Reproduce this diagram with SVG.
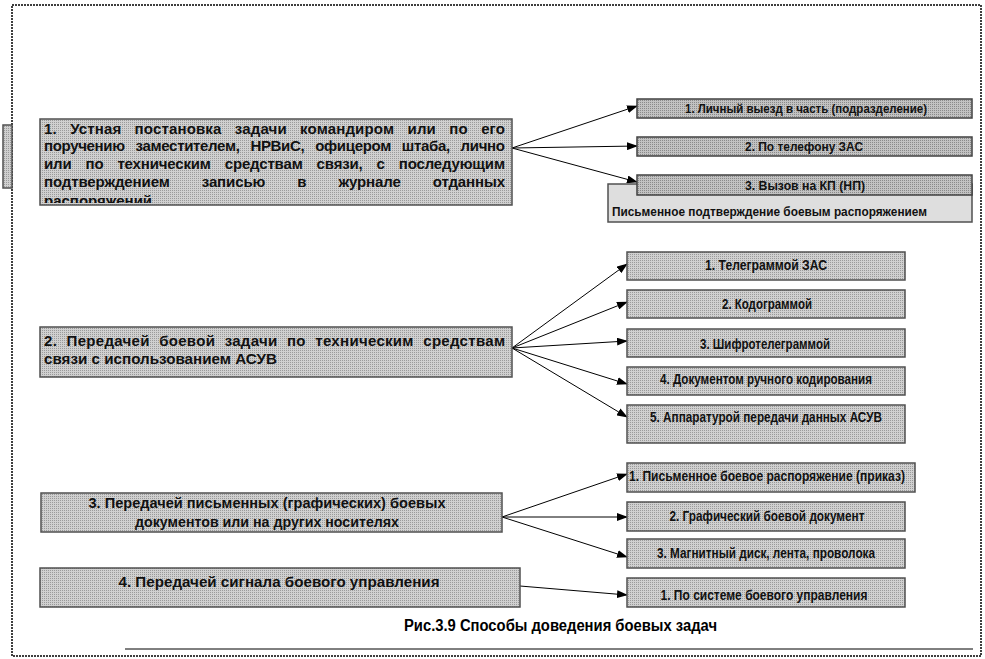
<svg xmlns="http://www.w3.org/2000/svg" width="985" height="659" viewBox="0 0 985 659">
<style>
.box{fill:url(#dots);stroke:#505050;stroke-width:1.5}
.boxd{fill:url(#dotsd);stroke:#404040;stroke-width:1.5}
.main{font-family:"Liberation Sans",Arial,sans-serif;font-size:15px;font-weight:bold;fill:#111}
.sub{font-family:"Liberation Sans Narrow","Liberation Sans",Arial,sans-serif;font-size:15px;font-weight:bold;fill:#111;text-anchor:middle}
.sm{font-size:13px}
.cap{font-family:"Liberation Sans Narrow","Liberation Sans",Arial,sans-serif;font-size:16px;font-weight:bold;fill:#000}
.conn line{stroke:#000;stroke-width:1;marker-end:url(#ah)}
</style>
<defs>
<pattern id="dots" width="2" height="2" patternUnits="userSpaceOnUse"><rect width="2" height="2" fill="#d0d0d0"/><rect width="1" height="1" fill="#9a9a9a"/></pattern>
<pattern id="dotsd" width="2" height="2" patternUnits="userSpaceOnUse"><rect width="2" height="2" fill="#c2c2c2"/><rect width="1" height="1" fill="#8a8a8a"/></pattern>
<marker id="ah" markerUnits="userSpaceOnUse" markerWidth="11" markerHeight="8" refX="10" refY="4" orient="auto"><path d="M0,0 L11,4 L0,8 z" fill="#000"/></marker>
<clipPath id="c1"><rect x="40" y="119" width="472" height="84"/></clipPath>
</defs>

<rect x="12" y="5" width="969" height="651" fill="none" stroke="#000" stroke-width="1.5" stroke-dasharray="2 1"/>
<line x1="125" y1="649" x2="973" y2="649" stroke="#000" stroke-width="1"/>
<rect x="3" y="125" width="9" height="63" class="box"/>

<g class="conn">
<line x1="512" y1="148" x2="637" y2="106"/>
<line x1="512" y1="148" x2="637" y2="146"/>
<line x1="512" y1="148" x2="637" y2="182"/>
<line x1="512" y1="348" x2="627" y2="264"/>
<line x1="512" y1="348" x2="627" y2="302"/>
<line x1="512" y1="348" x2="627" y2="341"/>
<line x1="512" y1="348" x2="627" y2="384"/>
<line x1="512" y1="348" x2="627" y2="417"/>
<line x1="502" y1="517" x2="627" y2="474"/>
<line x1="502" y1="517" x2="627" y2="517"/>
<line x1="502" y1="517" x2="627" y2="557"/>
<line x1="520" y1="586" x2="627" y2="595"/>
</g>

<g id="n1">
<rect x="40" y="119" width="472" height="86" class="box"/>
<g clip-path="url(#c1)" class="main">
<text x="44" y="134" word-spacing="9" textLength="461" lengthAdjust="spacing">1. Устная постановка задачи командиром или по его</text>
<text x="44" y="151" word-spacing="7" textLength="461" lengthAdjust="spacing">поручению заместителем, НРВиС, офицером штаба, лично</text>
<text x="44" y="169" word-spacing="10" textLength="461" lengthAdjust="spacing">или по техническим средствам связи, с последующим</text>
<text x="44" y="187" word-spacing="28" textLength="461" lengthAdjust="spacing">подтверждением записью в журнале отданных</text>
<text x="44" y="206">распоряжений</text>
</g>
</g>

<g id="n1a"><rect x="637" y="99" width="335" height="19" class="boxd"/><text x="806" y="113" class="sub sm" textLength="242" lengthAdjust="spacingAndGlyphs">1. Личный выезд в часть (подразделение)</text></g>
<g id="n1b"><rect x="637" y="137" width="335" height="19" class="boxd"/><text x="804" y="151" class="sub sm" textLength="118" lengthAdjust="spacingAndGlyphs">2. По телефону ЗАС</text></g>
<g id="n1d"><rect x="608" y="184" width="364" height="38" fill="#dedede" stroke="#505050" stroke-width="1.5"/><text x="612" y="216" class="sub sm" style="text-anchor:start" textLength="315" lengthAdjust="spacingAndGlyphs">Письменное подтверждение боевым распоряжением</text></g>
<g id="n1c"><rect x="637" y="175" width="335" height="20" class="boxd"/><text x="805" y="190" class="sub sm" textLength="120" lengthAdjust="spacingAndGlyphs">3. Вызов на КП (НП)</text></g>

<g id="n2">
<rect x="40" y="327" width="472" height="50" class="box"/>
<text x="44" y="346" class="main" word-spacing="5" textLength="461" lengthAdjust="spacing">2. Передачей боевой задачи по техническим средствам</text>
<text x="44" y="364" class="main" textLength="233" lengthAdjust="spacingAndGlyphs">связи с использованием АСУВ</text>
</g>
<g id="n2a"><rect x="627" y="252" width="278" height="28" class="box"/><text x="766" y="270" class="sub" textLength="122" lengthAdjust="spacingAndGlyphs">1. Телеграммой ЗАС</text></g>
<g id="n2b"><rect x="627" y="290" width="278" height="28" class="box"/><text x="767" y="309" class="sub" textLength="90" lengthAdjust="spacingAndGlyphs">2. Кодограммой</text></g>
<g id="n2c"><rect x="627" y="329" width="278" height="28" class="box"/><text x="765" y="349" class="sub" textLength="130" lengthAdjust="spacingAndGlyphs">3. Шифротелеграммой</text></g>
<g id="n2d"><rect x="627" y="367" width="278" height="28" class="box"/><text x="766" y="384" class="sub" textLength="212" lengthAdjust="spacingAndGlyphs">4. Документом ручного кодирования</text></g>
<g id="n2e"><rect x="627" y="405" width="278" height="38" class="box"/><text x="766" y="422" class="sub" textLength="232" lengthAdjust="spacingAndGlyphs">5. Аппаратурой передачи данных АСУВ</text></g>

<g id="n3">
<rect x="41" y="493" width="461" height="39" class="box"/>
<text x="267" y="508" class="main" text-anchor="middle" textLength="357" lengthAdjust="spacingAndGlyphs">3. Передачей письменных (графических) боевых</text>
<text x="267" y="527" class="main" text-anchor="middle" textLength="264" lengthAdjust="spacingAndGlyphs">документов или на других носителях</text>
</g>
<g id="n3a"><rect x="627" y="463" width="288" height="29" class="box"/><text x="767" y="481" class="sub" textLength="276" lengthAdjust="spacingAndGlyphs">1. Письменное боевое распоряжение (приказ)</text></g>
<g id="n3b"><rect x="627" y="502" width="278" height="29" class="box"/><text x="767" y="521" class="sub" textLength="195" lengthAdjust="spacingAndGlyphs">2. Графический боевой документ</text></g>
<g id="n3c"><rect x="627" y="539" width="278" height="29" class="box"/><text x="766" y="558" class="sub" textLength="218" lengthAdjust="spacingAndGlyphs">3. Магнитный диск, лента, проволока</text></g>

<g id="n4">
<rect x="40" y="568" width="480" height="39" class="box"/>
<text x="279" y="587" class="main" text-anchor="middle" textLength="321" lengthAdjust="spacingAndGlyphs">4. Передачей сигнала боевого управления</text>
</g>
<g id="n4a"><rect x="627" y="578" width="278" height="29" class="box"/><text x="764" y="600" class="sub" textLength="207" lengthAdjust="spacingAndGlyphs">1. По системе боевого управления</text></g>

<text x="404" y="631" class="cap" textLength="313" lengthAdjust="spacingAndGlyphs">Рис.3.9 Способы доведения боевых задач</text>
</svg>
